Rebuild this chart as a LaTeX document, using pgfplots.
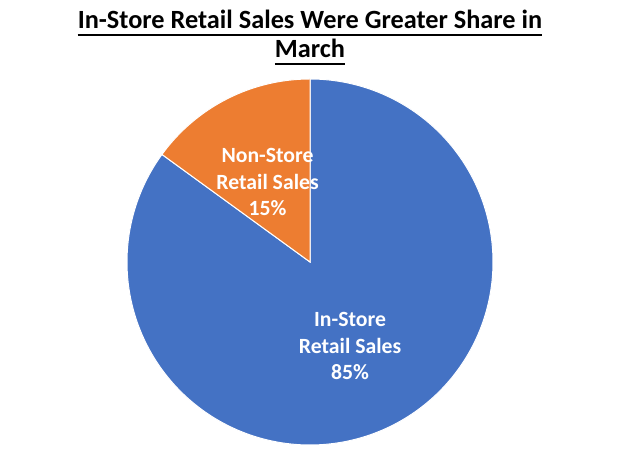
\documentclass[border=0pt]{standalone}
\usepackage{fontspec}
\setmainfont{Carlito}
\usepackage{pgfplots}
\usepackage{pgfplotstable}
\pgfplotsset{compat=1.18}
\definecolor{cblue}{HTML}{4472C4}
\definecolor{corange}{HTML}{ED7D31}
\pgfplotstableread{
label value
NonStore 15
InStore 85
}\piedata
\begin{document}
\begin{tikzpicture}
\fill[white] (0bp,0bp) rectangle (619bp,449bp);
\pgfplotstablegetelem{0}{value}\of\piedata \let\vA\pgfplotsretval
\pgfplotstablegetelem{1}{value}\of\piedata \let\vB\pgfplotsretval
\pgfmathsetmacro\aStart{90}
\pgfmathsetmacro\aMid{90+3.6*\vA}
\pgfmathsetmacro\aEnd{\aMid+3.6*\vB}
\begin{axis}[
  at={(310bp,187bp)}, anchor=center,
  x=183bp, y=183bp,
  xmin=-1, xmax=1, ymin=-1, ymax=1,
  hide axis, clip=false,
]
\addplot[fill=cblue, draw=white, line width=1pt, domain=\aMid:\aEnd, samples=200, smooth]
  ({cos(x)},{sin(x)}) -- (axis cs:0,0) -- cycle;
\addplot[fill=corange, draw=white, line width=1pt, domain=\aStart:\aMid, samples=60, smooth]
  ({cos(x)},{sin(x)}) -- (axis cs:0,0) -- cycle;
\node[text=white, font=\bfseries\fontsize{21.8}{26.5}\selectfont, align=center]
  at (axis cs:-0.232,0.437) {Non-Store\\Retail Sales\\\vA\%};
\node[text=white, font=\bfseries\fontsize{21.8}{26.5}\selectfont, align=center]
  at (axis cs:0.219,-0.459) {In-Store\\Retail Sales\\\vB\%};
\end{axis}
\node (t1) [font=\bfseries\fontsize{26.4}{31}\selectfont, anchor=base, inner sep=0pt]
  at (310bp,420bp) {In-Store Retail Sales Were Greater Share in};
\node (t2) [font=\bfseries\fontsize{26.4}{31}\selectfont, anchor=base, inner sep=0pt]
  at (310bp,391bp) {March};
\draw[line width=1.8bp] ([yshift=-6bp]t1.base west) -- ([yshift=-6bp]t1.base east);
\draw[line width=1.8bp] ([yshift=-6bp]t2.base west) -- ([yshift=-6bp]t2.base east);
\end{tikzpicture}
\end{document}
